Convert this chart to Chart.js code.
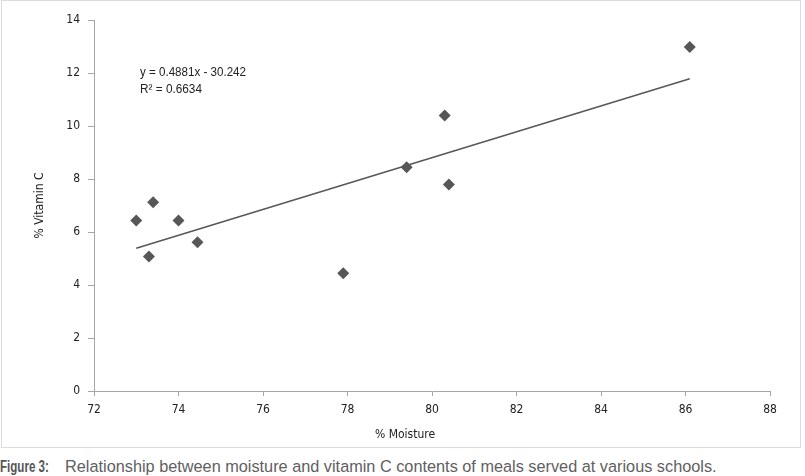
<!DOCTYPE html>
<html>
<head>
<meta charset="utf-8">
<script src="https://cdn.jsdelivr.net/npm/chart.js@4.4.1/dist/chart.umd.min.js"></script>
<style>
  html, body { margin: 0; padding: 0; background: #fff; }
  body { width: 805px; height: 476px; position: relative; overflow: hidden; }
  #box { position: absolute; left: 1px; top: 0; width: 798px; height: 446px;
         border: 1px solid #dcdcdc; }
  .cap { position: absolute; top: 457px; font-size: 16.3px; line-height: 19px; color: #606060; white-space: nowrap;
         font-family: "Liberation Sans", Arial, sans-serif; }
  #fig { left: 0; font-weight: bold; color: #555; font-size: 16.3px; transform: scaleX(0.71); transform-origin: 0 0; }
  #captext { left: 65px; }
</style>
</head>
<body>
<div id="box"><canvas id="chart" width="798" height="446"></canvas></div>
<div class="cap" id="fig">Figure 3:</div>
<div class="cap" id="captext">Relationship between moisture and vitamin C contents of meals served at various schools.</div>
<script>
// 散布図のデータ
const moisture = [73.0, 73.3, 73.4, 74.0, 74.45, 77.9, 79.4, 80.3, 80.4, 86.1];
const vitaminC = [6.43, 5.08, 7.12, 6.43, 5.61, 4.44, 8.44, 10.4, 7.79, 12.98];

// 近似直線の両端
const trendX = [73.0, 86.1];
const trendY = [5.39, 11.78];

const equationLines = ['y = 0.4881x - 30.242', 'R\u00B2 = 0.6634'];

const fontFamily = '"DejaVu Sans Condensed", "Liberation Sans", sans-serif';
const narrowFont = '"Liberation Sans", Arial, sans-serif';
const markColor = '#575757';
const axisColor = '#a6a6a6';

function narrowText(ctx, text, x, y, width) {
    const w = ctx.measureText(text).width;
    ctx.save();
    ctx.translate(x, y);
    ctx.scale(width / w, 1);
    ctx.fillText(text, 0, 0);
    ctx.restore();
}

const textPlugin = {
    id: 'texts',
    afterDraw(chart) {
        const ctx = chart.ctx;
        ctx.save();
        ctx.fillStyle = '#222';
        ctx.textBaseline = 'middle';
        ctx.font = '12.5px ' + narrowFont;
        narrowText(ctx, equationLines[0], 138, 72, 106);
        narrowText(ctx, equationLines[1], 138, 89, 62);
        // X軸タイトル
        ctx.textAlign = 'center';
        ctx.font = '12px ' + fontFamily;
        ctx.fillText('% Moisture', 403, 434);
        ctx.restore();
    }
};

const ctx = document.getElementById('chart').getContext('2d');
const chart = new Chart(ctx, {
    type: 'scatter',
    data: {
        datasets: [{
            label: 'data',
            data: moisture.map((x, i) => ({ x: x, y: vitaminC[i] })),
            pointStyle: 'rectRot',
            pointRadius: 6,
            backgroundColor: markColor,
            borderColor: markColor,
            borderWidth: 0,
        }, {
            label: 'trend',
            type: 'line',
            data: trendX.map((x, i) => ({ x: x, y: trendY[i] })),
            borderColor: markColor,
            borderWidth: 1.5,
            pointRadius: 0,
            fill: false,
        }]
    },
    options: {
        responsive: false,
        animation: false,
        layout: { padding: { left: 0, right: 30, top: 19, bottom: 0 } },
        plugins: { legend: { display: false }, tooltip: { enabled: false } },
        scales: {
            x: {
                type: 'linear',
                min: 72, max: 88,
                afterFit: (s) => { s.height = 56; },
                border: { color: axisColor, width: 1 },
                grid: { drawOnChartArea: false, tickLength: 5, color: axisColor },
                ticks: { stepSize: 2, padding: 7, color: '#222', font: { family: fontFamily, size: 12 } }
            },
            y: {
                min: 0, max: 14,
                afterFit: (s) => { s.width = 92; },
                border: { color: axisColor, width: 1 },
                grid: { drawOnChartArea: false, tickLength: 6, color: axisColor },
                ticks: { stepSize: 2, padding: 8, color: '#222', font: { family: fontFamily, size: 12 } },
                title: { display: true, text: '% Vitamin C', color: '#222',
                         font: { family: fontFamily, size: 12 }, padding: { top: 31, bottom: 0 } }
            }
        }
    },
    plugins: [textPlugin]
});
</script>
</body>
</html>
